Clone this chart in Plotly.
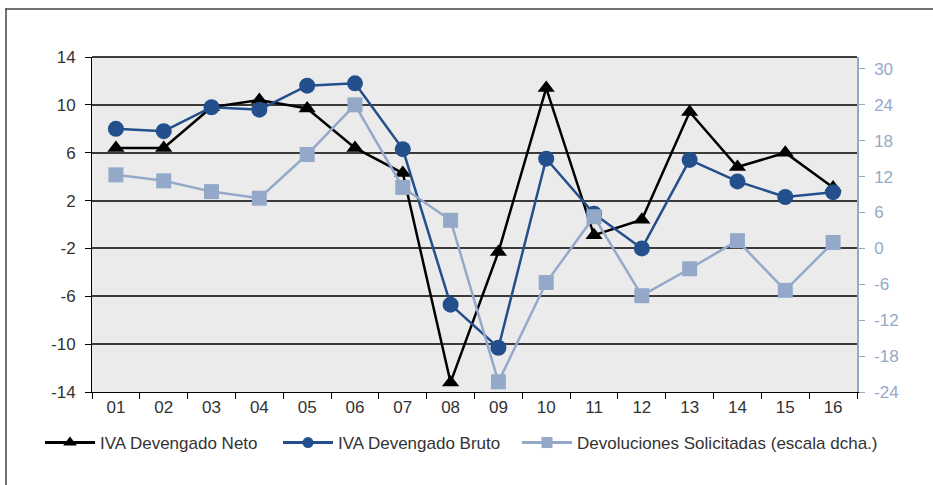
import plotly.graph_objects as go

categories = ["01", "02", "03", "04", "05", "06", "07", "08", "09", "10", "11", "12", "13", "14", "15", "16"]
iva_neto = [6.4, 6.4, 9.8, 10.4, 9.7, 6.4, 4.3, -13.2, -2.3, 11.4, -0.9, 0.4, 9.4, 4.8, 6.0, 3.1]
iva_bruto = [8.0, 7.8, 9.8, 9.6, 11.6, 11.8, 6.3, -6.7, -10.3, 5.5, 0.9, -2.0, 5.4, 3.6, 2.3, 2.7]
devoluciones = [12.3, 11.3, 9.5, 8.4, 15.7, 24.0, 10.2, 4.7, -22.3, -5.7, 5.3, -7.9, -3.4, 1.3, -7.0, 1.0]

series_names = ["IVA Devengado Neto", "IVA Devengado Bruto", "Devoluciones Solicitadas (escala dcha.)"]

left_ticks = [-14, -10, -6, -2, 2, 6, 10, 14]
left_labels = ["-14", "-10", "-6", "-2", "2", "6", "10", "14"]
right_ticks = [-24, -18, -12, -6, 0, 6, 12, 18, 24, 30]
right_labels = ["-24", "-18", "-12", "-6", "0", "6", "12", "18", "24", "30"]

BLACK = "#000000"
DARK_BLUE = "#234f8c"
LIGHT_BLUE = "#94a9c9"
FONT = "Liberation Sans, Arial, sans-serif"
TXT = "#333333"

W, H = 933, 485
L, R, T, B = 92, 76, 57, 93
pw, ph = W - L - R, H - T - B
legend_y = -(443 - (T + ph)) / ph

styles = [
    dict(color=BLACK, symbol="triangle-up", size=15, lsize=12, axis="y"),
    dict(color=DARK_BLUE, symbol="circle", size=16, lsize=11, axis="y"),
    dict(color=LIGHT_BLUE, symbol="square", size=15, lsize=11, axis="y2"),
]
values = [iva_neto, iva_bruto, devoluciones]
legends = ["legend", "legend2", "legend3"]

fig = go.Figure()
for name, vals, st, lg in zip(series_names, values, styles, legends):
    fig.add_trace(go.Scatter(
        x=categories, y=vals, name=name, mode="lines+markers",
        line=dict(color=st["color"], width=2.5),
        marker=dict(symbol=st["symbol"], size=st["size"], color=st["color"]),
        yaxis=st["axis"], showlegend=False,
    ))
    # legend-only entry with smaller symbol
    fig.add_trace(go.Scatter(
        x=[None], y=[None], name=name, mode="lines+markers",
        line=dict(color=st["color"], width=3),
        marker=dict(symbol=st["symbol"], size=st["lsize"], color=st["color"]),
        yaxis=st["axis"], legend=lg, showlegend=True, hoverinfo="skip",
    ))


def leg(px):
    return dict(
        orientation="h", x=(px - L) / pw, xanchor="left", y=legend_y,
        yanchor="middle", font=dict(size=17, color=TXT), bgcolor="rgba(0,0,0,0)",
        itemwidth=50, borderwidth=0,
    )


fig.update_layout(
    width=W, height=H,
    margin=dict(l=L, r=R, t=T, b=B, autoexpand=False),
    paper_bgcolor="white",
    plot_bgcolor="#ebebeb",
    font=dict(family=FONT, size=17, color=TXT),
    showlegend=True,
    legend=leg(40),
    legend2=leg(278),
    legend3=leg(517),
    xaxis=dict(
        type="category", range=[-0.5, 15.5], tickson="boundaries", ticks="outside", ticklen=6,
        tickcolor=BLACK, showline=True, linecolor=BLACK, linewidth=1,
        showgrid=False, tickfont=dict(size=17, color=TXT),
    ),
    yaxis=dict(
        range=[-14, 14], tickvals=left_ticks, ticktext=left_labels, ticks="outside", ticklen=6,
        tickcolor=BLACK, showline=True, linecolor=BLACK, linewidth=1,
        showgrid=True, gridcolor="#3a3a3a", gridwidth=1.5, zeroline=False,
        tickfont=dict(size=17, color=TXT), ticklabelstandoff=6,
    ),
    yaxis2=dict(
        range=[-24, 32], tickvals=right_ticks, ticktext=right_labels, overlaying="y", side="right",
        ticks="outside", ticklen=6, tickcolor=LIGHT_BLUE, showline=True,
        linecolor=LIGHT_BLUE, linewidth=1.5, showgrid=False, zeroline=False,
        tickfont=dict(size=17, color=LIGHT_BLUE), ticklabelstandoff=6,
    ),
    shapes=[
        dict(type="line", xref="paper", yref="paper",
             x0=(5 - L) / pw, x1=(W - L) / pw, y0=1 + (T - 9) / ph, y1=1 + (T - 9) / ph,
             line=dict(color="#444444", width=1.5)),
        dict(type="line", xref="paper", yref="paper",
             x0=(6 - L) / pw, x1=(6 - L) / pw, y0=1 + (T - 9) / ph, y1=-(H - T - ph) / ph,
             line=dict(color="#444444", width=1.5)),
        dict(type="line", xref="paper", yref="paper",
             x0=0, x1=1, y0=1, y1=1, line=dict(color=BLACK, width=1.5)),
    ],
)

fig.write_html(
    "out.html",
    config={"displayModeBar": False},
    post_script="document.body.style.margin='0';document.body.style.padding='0';",
)
